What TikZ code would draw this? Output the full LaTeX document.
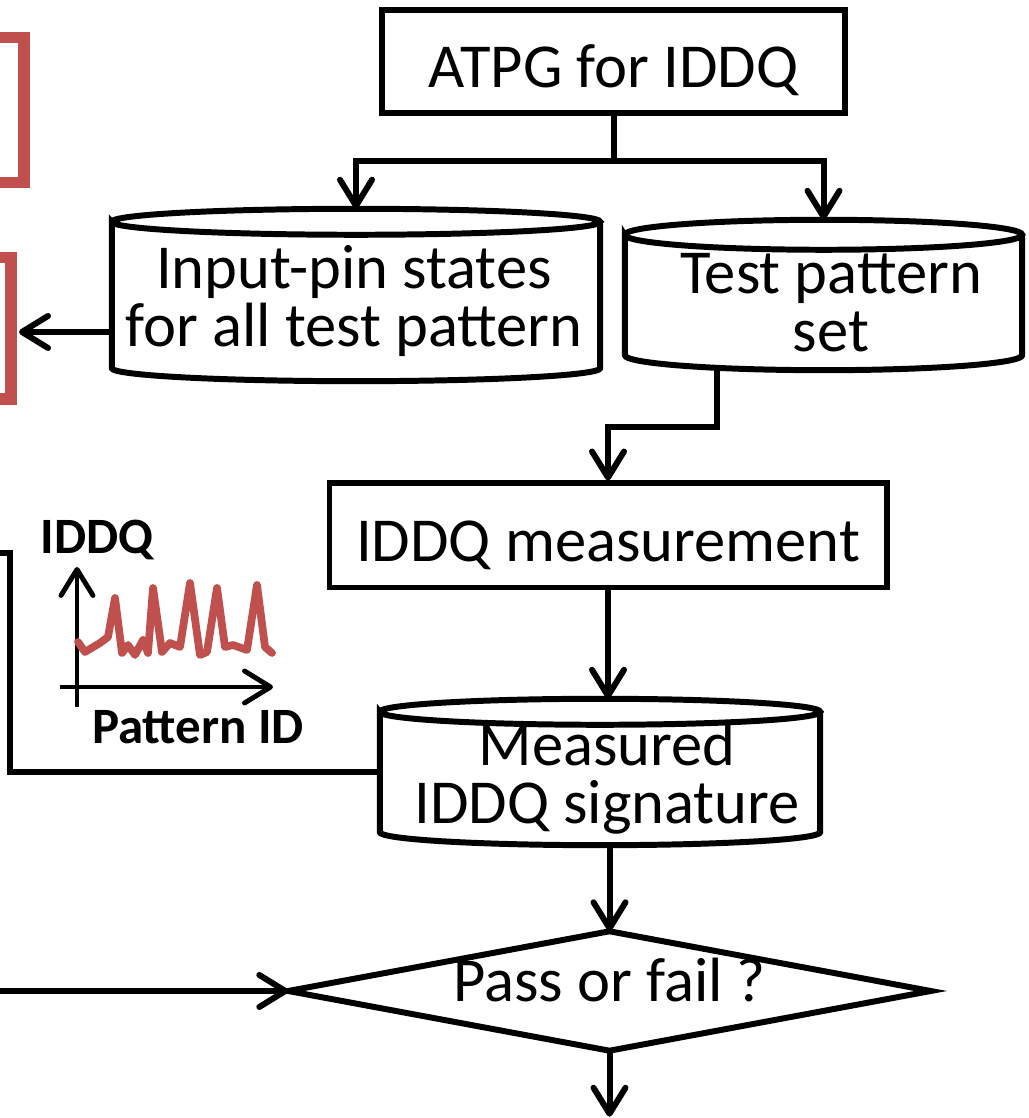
\documentclass[tikz,border=0pt]{standalone}
\usepackage{fontspec}
\setmainfont{Carlito}
\usetikzlibrary{arrows.meta, positioning, shapes.geometric, calc}

\definecolor{barred}{HTML}{C0504D}
\newcommand{\flowfont}{\fontsize{17.8}{16.5}\selectfont}
\newcommand{\axisfont}{\fontsize{14.5}{16}\selectfont\bfseries}

% outline of a data drum round a node: #1 node, #2 y radius of the ends
\newcommand{\drumoutline}[2]{%
  \draw[flowline] let \p1=(#1.north west), \p2=(#1.south east), \n1={(\x2-\x1)/2} in
    (\x1,{\y1-#2}) arc[x radius=\n1, y radius=#2, start angle=180, end angle=-180]
    -- (\x1,{\y2+#2}) arc[x radius=\n1, y radius=#2, start angle=180, end angle=360]
    -- (\x2,{\y1-#2});}

\tikzset{
  flowline/.style={line width=1.7pt},
  flowarrow/.style={flowline, -{Straight Barb[length=2.6mm, width=3.2mm, round]}},
  procbox/.style={draw, flowline, inner sep=0pt, font=\flowfont, text height=0.6cm},
  drum/.style={inner sep=0pt},
  drumtext/.style={align=center, font=\flowfont},
  redbar/.style={draw=barred, line width=3.4pt},
}

\begin{document}
\begin{tikzpicture}
    \useasboundingbox (0,0) rectangle (10.28,11.18);

    % Red frames cut by the left edge
    \draw[redbar] (-0.1,10.805) -- (0.24,10.805) -- (0.24,9.355) -- (-0.1,9.355);
    \draw[redbar] (-0.1,8.605) -- (0.11,8.605) -- (0.11,7.19) -- (-0.1,7.19);

    % Flow nodes
    \node[procbox, minimum width=4.63cm, minimum height=1.03cm] (atpg) at (6.135,10.565) {ATPG for IDDQ};
    \node[drum, minimum width=4.87cm, minimum height=1.71cm] (pins) at (3.56,8.23) {};
    \node[drumtext] (pinstext) at (3.54,8.17) {Input-pin states\\for all test pattern};
    \node[drum, minimum width=3.96cm, minimum height=1.49cm] (patset) at (8.235,8.23) {};
    \node[drumtext] (patsettext) at (8.31,8.15) {Test pattern\\set};
    \node[procbox, minimum width=5.57cm, minimum height=1.04cm] (meas) at (6.08,5.825) {IDDQ measurement};
    \node[drum, minimum width=4.39cm, minimum height=1.45cm] (sig) at (6.00,3.46) {};
    \node[drumtext] (sigtext) at (6.07,3.40) {Measured\\IDDQ signature};
    \node[inner sep=0pt, font=\flowfont, text depth=0.22cm, minimum width=6.41cm, minimum height=1.18cm] (pass) at (6.095,1.27) {Pass or fail ?};

    \drumoutline{pins}{0.13cm}
    \drumoutline{patset}{0.15cm}
    \drumoutline{sig}{0.13cm}
    \draw[flowline] (pass.north) -- (pass.east) -- (pass.south) -- (pass.west) -- cycle;

    % Connectors
    \draw[flowline] (atpg.south) -- ++(0,-0.45) coordinate (split);
    \draw[flowarrow] (split) -| (pins.north);
    \draw[flowarrow] (split) -| (patset.north);
    \draw[flowarrow] ([xshift=-1.065cm]patset.south) -- ++(0,-0.57) -| (meas.north);
    \draw[flowarrow] (meas.south) -- (meas.south |- sig.north);
    \draw[flowarrow] (pass.north |- sig.south) -- (pass.north);
    \draw[flowarrow] (pass.south) -- ++(0,-0.66);

    % Lines leaving and entering at the left edge
    \coordinate (pinsout) at (0.19,7.86);
    \draw[flowarrow] (pins.west |- pinsout) -- (pinsout);
    \coordinate (lbend) at (0.10,5.65);
    \coordinate (outL) at (-0.1,5.65);
    \draw[flowline] (sig.west) -| (lbend) -- (outL);
    \coordinate (inL) at (-0.1,1.27);
    \draw[flowarrow] (inL) -- (pass.west);

    % Small IDDQ plot
    \node[font=\axisfont] (ylab) at (0.97,5.78) {IDDQ};
    \node[font=\axisfont] (xlab) at (1.98,3.91) {Pattern ID};
    \draw[flowarrow, line width=1.4pt] (0.77,4.11) -- (0.77,5.51);
    \draw[flowarrow, line width=1.4pt] (0.60,4.31) -- (2.73,4.31);
    \draw[barred, line width=2.2pt, line join=round, line cap=round]
        (0.78,4.76) -- (0.85,4.66) -- (1.00,4.75) -- (1.08,4.81) -- (1.15,5.20)
        -- (1.22,4.65) -- (1.28,4.73) -- (1.35,4.63) -- (1.43,4.78) -- (1.48,4.65)
        -- (1.53,5.30) -- (1.62,4.66) -- (1.70,4.75) -- (1.80,4.71) -- (1.90,5.35)
        -- (2.00,4.63) -- (2.07,4.66) -- (2.17,5.30) -- (2.25,4.71) -- (2.33,4.73)
        -- (2.47,4.68) -- (2.57,5.33) -- (2.65,4.71) -- (2.72,4.65);
\end{tikzpicture}
\end{document}
